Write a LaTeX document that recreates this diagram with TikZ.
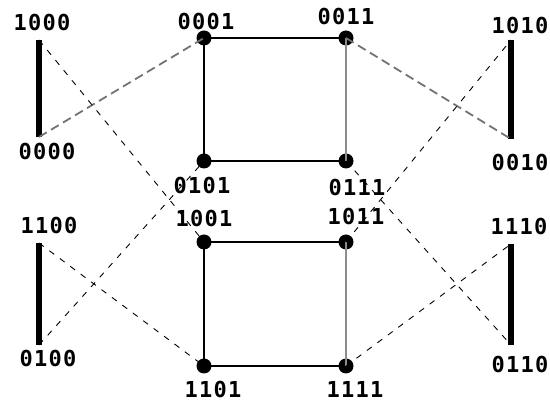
\documentclass[tikz,border=0pt]{standalone}
\usepackage{fontspec}
\newfontfamily\labfont[LetterSpace=6]{DejaVu Sans Mono Bold}
\begin{document}
\begin{tikzpicture}[x=1pt,y=-1pt,
  dot/.style={circle,fill=black,inner sep=0pt,minimum size=15pt},
  lab/.style={font=\labfont\fontsize{22}{24}\selectfont,inner sep=0pt},
  bar/.style={line width=6pt},
  edge/.style={line width=1.3pt},
  grayedge/.style={line width=1.6pt,draw=black!45},
  longdash/.style={line width=1.8pt,draw=black!55,dash pattern=on 9pt off 5pt},
  shortdash/.style={line width=0.9pt,dash pattern=on 6pt off 7pt}]
\useasboundingbox (0,0) rectangle (550,403);
% dots
\node[dot] (d0001) at (204,38) {};
\node[dot] (d0011) at (346,38) {};
\node[dot] (d0101) at (204,161) {};
\node[dot] (d0111) at (346,161) {};
\node[dot] (d1001) at (204,242) {};
\node[dot] (d1011) at (346,242) {};
\node[dot] (d1101) at (204,366) {};
\node[dot] (d1111) at (346,366) {};
% bar ends
\coordinate (c1000) at (39,40);
\coordinate (c0000) at (39,137);
\coordinate (c1100) at (39,243);
\coordinate (c0100) at (39,345);
\coordinate (c1010) at (511,40);
\coordinate (c0010) at (511,139);
\coordinate (c1110) at (511,244);
\coordinate (c0110) at (511,345);
% bars
\draw[bar] (c1000) -- (c0000);
\draw[bar] (c1100) -- (c0100);
\draw[bar] (c1010) -- (c0010);
\draw[bar] (c1110) -- (c0110);
% squares
\draw[edge] (d0001.center) -- (d0011.center);
\draw[edge] (d0101.center) -- (d0111.center);
\draw[edge] (d0001.center) -- (d0101.center);
\draw[grayedge] (d0011.center) -- (d0111.center);
\draw[edge] (d1001.center) -- (d1011.center);
\draw[edge] (d1101.center) -- (d1111.center);
\draw[edge] (d1001.center) -- (d1101.center);
\draw[grayedge] (d1011.center) -- (d1111.center);
% dashed connectors
\draw[longdash] (c0000) -- (d0001.center);
\draw[longdash] (d0011.center) -- (c0010);
\draw[shortdash] (c1000) -- (d1001.center);
\draw[shortdash] (c0100) -- (d0101.center);
\draw[shortdash] (c1100) -- (d1101.center);
\draw[shortdash] (d1111.center) -- (c1110);
\draw[shortdash] (d0111.center) -- (c0110);
\draw[shortdash] (d1011.center) -- (c1010);
% labels
\node[lab] (l1000) at (42,22) {1000};
\node[lab] (l0000) at (47,151) {0000};
\node[lab] (l0001) at (206,21) {0001};
\node[lab] (l0101) at (202,185) {0101};
\node[lab] (l0011) at (346,16) {0011};
\node[lab] (l1010) at (520,25) {1010};
\node[lab] (l0010) at (520,162) {0010};
\node[lab] (l0111) at (357,187) {0111};
\node[lab] (l1100) at (49,225) {1100};
\node[lab] (l0100) at (48,358) {0100};
\node[lab] (l1001) at (204,218) {1001};
\node[lab] (l1101) at (213,389) {1101};
\node[lab] (l1011) at (356,216) {1011};
\node[lab] (l1110) at (519,226) {1110};
\node[lab] (l0110) at (520,364) {0110};
\node[lab] (l1111) at (355,389) {1111};
\end{tikzpicture}
\end{document}
